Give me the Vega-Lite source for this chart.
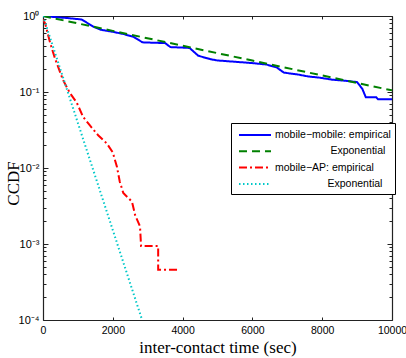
{
  "$schema": "https://vega.github.io/schema/vega-lite/v6.json",
  "width": 349,
  "height": 304,
  "autosize": {"type": "none"},
  "padding": {"left": 43, "top": 16, "right": 14, "bottom": 38},
  "background": "white",
  "config": {
    "view": {"stroke": null},
    "axis": {
      "grid": false,
      "domainColor": "#222222",
      "domainWidth": 1.2,
      "tickColor": "#222222",
      "tickWidth": 1,
      "labelFont": "Liberation Sans",
      "labelFontSize": 11,
      "labelColor": "black",
      "labelFlush": false,
      "labelOverlap": false,
      "labelBound": false,
      "titleFont": "Liberation Serif",
      "titleFontSize": 17,
      "titleFontWeight": "normal",
      "titleColor": "black"
    }
  },
  "data": {
    "values": [
      {"s": "mobile−mobile: empirical", "t": 0, "v": 1.0, "i": 1},
      {"s": "mobile−mobile: empirical", "t": 300, "v": 0.97, "i": 2},
      {"s": "mobile−mobile: empirical", "t": 700, "v": 0.94, "i": 3},
      {"s": "mobile−mobile: empirical", "t": 1100, "v": 0.9, "i": 4},
      {"s": "mobile−mobile: empirical", "t": 1250, "v": 0.82, "i": 5},
      {"s": "mobile−mobile: empirical", "t": 1450, "v": 0.72, "i": 6},
      {"s": "mobile−mobile: empirical", "t": 1650, "v": 0.66, "i": 7},
      {"s": "mobile−mobile: empirical", "t": 2000, "v": 0.62, "i": 8},
      {"s": "mobile−mobile: empirical", "t": 2300, "v": 0.58, "i": 9},
      {"s": "mobile−mobile: empirical", "t": 2600, "v": 0.53, "i": 10},
      {"s": "mobile−mobile: empirical", "t": 2850, "v": 0.45, "i": 11},
      {"s": "mobile−mobile: empirical", "t": 3500, "v": 0.44, "i": 12},
      {"s": "mobile−mobile: empirical", "t": 3650, "v": 0.39, "i": 13},
      {"s": "mobile−mobile: empirical", "t": 4200, "v": 0.38, "i": 14},
      {"s": "mobile−mobile: empirical", "t": 4450, "v": 0.3, "i": 15},
      {"s": "mobile−mobile: empirical", "t": 4800, "v": 0.27, "i": 16},
      {"s": "mobile−mobile: empirical", "t": 5000, "v": 0.26, "i": 17},
      {"s": "mobile−mobile: empirical", "t": 5500, "v": 0.25, "i": 18},
      {"s": "mobile−mobile: empirical", "t": 6000, "v": 0.24, "i": 19},
      {"s": "mobile−mobile: empirical", "t": 6400, "v": 0.23, "i": 20},
      {"s": "mobile−mobile: empirical", "t": 6700, "v": 0.21, "i": 21},
      {"s": "mobile−mobile: empirical", "t": 6900, "v": 0.18, "i": 22},
      {"s": "mobile−mobile: empirical", "t": 7300, "v": 0.17, "i": 23},
      {"s": "mobile−mobile: empirical", "t": 7600, "v": 0.16, "i": 24},
      {"s": "mobile−mobile: empirical", "t": 7900, "v": 0.155, "i": 25},
      {"s": "mobile−mobile: empirical", "t": 8300, "v": 0.145, "i": 26},
      {"s": "mobile−mobile: empirical", "t": 8700, "v": 0.14, "i": 27},
      {"s": "mobile−mobile: empirical", "t": 9000, "v": 0.135, "i": 28},
      {"s": "mobile−mobile: empirical", "t": 9150, "v": 0.11, "i": 29},
      {"s": "mobile−mobile: empirical", "t": 9250, "v": 0.085, "i": 30},
      {"s": "mobile−mobile: empirical", "t": 9550, "v": 0.085, "i": 31},
      {"s": "mobile−mobile: empirical", "t": 9600, "v": 0.08, "i": 32},
      {"s": "mobile−mobile: empirical", "t": 10000, "v": 0.08, "i": 33},
      {"s": "mobile−mobile: Exponential", "t": 0, "v": 1.0, "i": 1},
      {"s": "mobile−mobile: Exponential", "t": 2000, "v": 0.637, "i": 2},
      {"s": "mobile−mobile: Exponential", "t": 4000, "v": 0.406, "i": 3},
      {"s": "mobile−mobile: Exponential", "t": 6000, "v": 0.259, "i": 4},
      {"s": "mobile−mobile: Exponential", "t": 8000, "v": 0.165, "i": 5},
      {"s": "mobile−mobile: Exponential", "t": 10000, "v": 0.105, "i": 6},
      {"s": "mobile−AP: empirical", "t": 0, "v": 0.9, "i": 1},
      {"s": "mobile−AP: empirical", "t": 60, "v": 0.8, "i": 2},
      {"s": "mobile−AP: empirical", "t": 200, "v": 0.45, "i": 3},
      {"s": "mobile−AP: empirical", "t": 340, "v": 0.28, "i": 4},
      {"s": "mobile−AP: empirical", "t": 570, "v": 0.145, "i": 5},
      {"s": "mobile−AP: empirical", "t": 770, "v": 0.097, "i": 6},
      {"s": "mobile−AP: empirical", "t": 970, "v": 0.072, "i": 7},
      {"s": "mobile−AP: empirical", "t": 1150, "v": 0.047, "i": 8},
      {"s": "mobile−AP: empirical", "t": 1350, "v": 0.036, "i": 9},
      {"s": "mobile−AP: empirical", "t": 1580, "v": 0.027, "i": 10},
      {"s": "mobile−AP: empirical", "t": 1830, "v": 0.021, "i": 11},
      {"s": "mobile−AP: empirical", "t": 2000, "v": 0.016, "i": 12},
      {"s": "mobile−AP: empirical", "t": 2120, "v": 0.0103, "i": 13},
      {"s": "mobile−AP: empirical", "t": 2200, "v": 0.0066, "i": 14},
      {"s": "mobile−AP: empirical", "t": 2300, "v": 0.0047, "i": 15},
      {"s": "mobile−AP: empirical", "t": 2550, "v": 0.0036, "i": 16},
      {"s": "mobile−AP: empirical", "t": 2640, "v": 0.0024, "i": 17},
      {"s": "mobile−AP: empirical", "t": 2780, "v": 0.0017, "i": 18},
      {"s": "mobile−AP: empirical", "t": 2810, "v": 0.00094, "i": 19},
      {"s": "mobile−AP: empirical", "t": 3300, "v": 0.00094, "i": 20},
      {"s": "mobile−AP: empirical", "t": 3300, "v": 0.00046, "i": 21},
      {"s": "mobile−AP: empirical", "t": 3870, "v": 0.00046, "i": 22},
      {"s": "mobile−AP: Exponential", "t": 0, "v": 1.0, "i": 1},
      {"s": "mobile−AP: Exponential", "t": 710, "v": 0.1, "i": 2},
      {"s": "mobile−AP: Exponential", "t": 1420, "v": 0.01, "i": 3},
      {"s": "mobile−AP: Exponential", "t": 2130, "v": 0.001, "i": 4},
      {"s": "mobile−AP: Exponential", "t": 2840, "v": 0.0001, "i": 5}
    ]
  },
  "layer": [
    {
      "mark": {"type": "line", "clip": true},
      "encoding": {
        "x": {
          "field": "t", "type": "quantitative",
          "scale": {"domain": [0, 10000], "nice": false, "zero": false},
          "axis": {
            "orient": "bottom",
            "values": [0, 2000, 4000, 6000, 8000, 10000],
            "format": "d",
            "tickSize": -3,
            "labelPadding": 8,
            "labelFontSize": 10.5,
            "title": "inter-contact time (sec)",
            "titleBaseline": "alphabetic",
            "titleY": 32
          }
        },
        "y": {
          "field": "v", "type": "quantitative",
          "scale": {"type": "log", "domain": [0.0001, 1], "nice": false},
          "axis": {
            "orient": "left",
            "values": [0.0001, 0.0002, 0.0003, 0.0004, 0.0005, 0.0006, 0.0007, 0.0008, 0.0009, 0.001, 0.002, 0.003, 0.004, 0.005, 0.006, 0.007, 0.008, 0.009, 0.01, 0.02, 0.03, 0.04, 0.05, 0.06, 0.07, 0.08, 0.09, 0.1, 0.2, 0.3, 0.4, 0.5, 0.6, 0.7, 0.8, 0.9, 1],
            "labelExpr": "datum.value == 1 ? '10⁰' : datum.value == 0.1 ? '10⁻¹' : datum.value == 0.01 ? '10⁻²' : datum.value == 0.001 ? '10⁻³' : datum.value == 0.0001 ? '10⁻⁴' : ''",
            "tickSize": {"condition": {"test": "datum.value == 1 || datum.value == 0.1 || datum.value == 0.01 || datum.value == 0.001 || datum.value == 0.0001", "value": -5}, "value": -3},
            "labelPadding": 9,
            "title": "CCDF",
            "titleBaseline": "alphabetic",
            "titleX": -25,
            "titleY": 167
          }
        },
        "color": {
          "field": "s", "type": "nominal",
          "scale": {
            "domain": ["mobile−mobile: empirical", "mobile−mobile: Exponential", "mobile−AP: empirical", "mobile−AP: Exponential"],
            "range": ["#0000ff", "#008000", "#ff0000", "#00c8c8"]
          },
          "legend": {
            "orient": "none", "legendX": 188, "legendY": 107,
            "title": null,
            "symbolType": "M-2.286,0H2.286",
            "symbolSize": 196,
            "symbolStrokeWidth": 2,
            "symbolOffset": 12,
            "labelOffset": 12,
            "padding": 4,
            "rowPadding": 2.3,
            "strokeColor": "black",
            "fillColor": "white",
            "labelFont": "Liberation Sans",
            "labelFontSize": 10.5,
            "labelColor": "black",
            "labelLimit": 300,
            "labelExpr": "indexof(datum.label, 'Exponential') >= 0 ? (indexof(datum.label, 'AP') >= 0 ? '\u200b\u00a0\u00a0\u00a0\u00a0\u00a0\u00a0\u00a0\u00a0\u00a0\u00a0\u00a0\u00a0\u00a0\u00a0\u00a0\u00a0\u00a0\u00a0Exponential' : '\u200b\u00a0\u00a0\u00a0\u00a0\u00a0\u00a0\u00a0\u00a0\u00a0\u00a0\u00a0\u00a0\u00a0\u00a0\u00a0\u00a0\u00a0\u00a0\u00a0Exponential') : datum.label"
          }
        },
        "strokeDash": {
          "field": "s", "type": "nominal",
          "scale": {
            "domain": ["mobile−mobile: empirical", "mobile−mobile: Exponential", "mobile−AP: empirical", "mobile−AP: Exponential"],
            "range": [[1, 0], [8, 5], [8, 3, 2, 3], [1.5, 2.5]]
          },
          "legend": {
            "orient": "none", "legendX": 188, "legendY": 107,
            "title": null,
            "symbolType": "M-2.286,0H2.286",
            "symbolSize": 196,
            "symbolStrokeWidth": 2,
            "symbolOffset": 12,
            "labelOffset": 12,
            "padding": 4,
            "rowPadding": 2.3,
            "strokeColor": "black",
            "fillColor": "white",
            "labelFont": "Liberation Sans",
            "labelFontSize": 10.5,
            "labelColor": "black",
            "labelLimit": 300,
            "labelExpr": "indexof(datum.label, 'Exponential') >= 0 ? (indexof(datum.label, 'AP') >= 0 ? '\u200b\u00a0\u00a0\u00a0\u00a0\u00a0\u00a0\u00a0\u00a0\u00a0\u00a0\u00a0\u00a0\u00a0\u00a0\u00a0\u00a0\u00a0\u00a0Exponential' : '\u200b\u00a0\u00a0\u00a0\u00a0\u00a0\u00a0\u00a0\u00a0\u00a0\u00a0\u00a0\u00a0\u00a0\u00a0\u00a0\u00a0\u00a0\u00a0\u00a0Exponential') : datum.label"
          }
        },
        "strokeWidth": {
          "field": "s", "type": "nominal",
          "scale": {
            "domain": ["mobile−mobile: empirical", "mobile−mobile: Exponential", "mobile−AP: empirical", "mobile−AP: Exponential"],
            "range": [2, 2, 2, 1.5]
          },
          "legend": null
        },
        "order": {"field": "i", "type": "quantitative"}
      }
    },
    {
      "mark": {"type": "point", "opacity": 0},
      "encoding": {
        "x": {
          "field": "t", "type": "quantitative",
          "axis": {
            "orient": "top",
            "values": [0, 2000, 4000, 6000, 8000, 10000],
            "tickSize": -3,
            "labels": false,
            "title": null
          }
        },
        "y": {
          "field": "v", "type": "quantitative",
          "axis": {
            "orient": "right",
            "values": [0.0001, 0.0002, 0.0003, 0.0004, 0.0005, 0.0006, 0.0007, 0.0008, 0.0009, 0.001, 0.002, 0.003, 0.004, 0.005, 0.006, 0.007, 0.008, 0.009, 0.01, 0.02, 0.03, 0.04, 0.05, 0.06, 0.07, 0.08, 0.09, 0.1, 0.2, 0.3, 0.4, 0.5, 0.6, 0.7, 0.8, 0.9, 1],
            "tickSize": {"condition": {"test": "datum.value == 1 || datum.value == 0.1 || datum.value == 0.01 || datum.value == 0.001 || datum.value == 0.0001", "value": -5}, "value": -3},
            "labels": false,
            "title": null
          }
        }
      }
    }
  ],
  "resolve": {"axis": {"x": "independent", "y": "independent"}}
}
